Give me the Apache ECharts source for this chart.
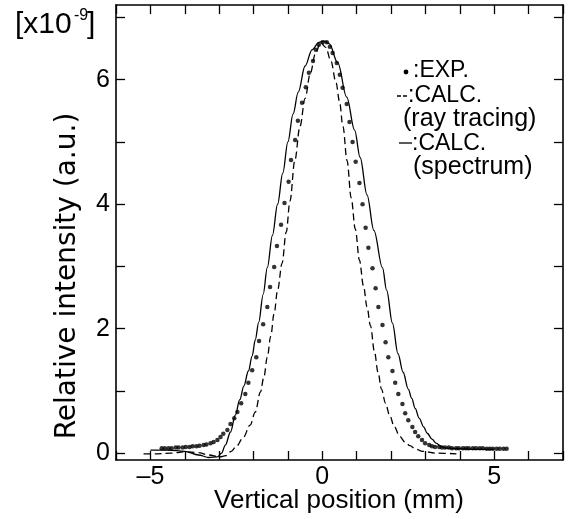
<!DOCTYPE html>
<html>
<head>
<meta charset="utf-8">
<script src="https://cdn.jsdelivr.net/npm/echarts@6/dist/echarts.min.js"></script>
<style>
html,body{margin:0;padding:0;background:#fff;}
#chart{width:568px;height:519px;}
</style>
</head>
<body>
<div id="chart"></div>
<script>
// ---- data ----
var xTickLabels = [-5, 0, 5];
var yTickLabels = [0, 2, 4, 6];
var yTicks = [0, 1, 2, 3, 4, 5, 6, 7];

// experimental points (dots)
var expX = [-4.67,-4.58,-4.47,-4.38,-4.26,-4.18,-4.06,-3.97,-3.86,-3.77,-3.66,-3.57,-3.45,-3.37,-3.25,-3.16,-3.05,-2.96,-2.88,-2.76,
  -2.67,-2.56,-2.47,-2.36,-2.24,-2.15,-2.04,-1.92,-1.84,-1.72,-1.60,-1.52,-1.40,-1.32,-1.20,-1.10,-0.98,-0.91,-0.79,-0.71,
  -0.59,-0.48,-0.39,-0.27,-0.19,-0.10,0.01,0.13,0.22,0.30,0.42,0.51,0.59,0.71,0.79,0.88,0.97,1.08,1.17,1.26,
  1.34,1.46,1.55,1.63,1.75,1.84,1.92,2.04,2.12,2.21,2.33,2.41,2.50,2.62,2.70,2.79,2.90,2.99,3.11,3.19,
  3.28,3.40,3.48,3.57,3.68,3.77,3.89,3.97,4.09,4.18,4.26,4.38,4.47,4.58,4.67,4.78,4.87,4.96,5.07,5.16,5.27,5.36];
var expY = [0.08,0.08,0.08,0.08,0.09,0.09,0.09,0.10,0.10,0.11,0.11,0.12,0.13,0.14,0.16,0.18,0.21,0.26,0.31,0.37,
  0.47,0.56,0.66,0.80,0.95,1.13,1.33,1.54,1.80,2.07,2.35,2.67,2.99,3.33,3.67,4.02,4.36,4.71,5.03,5.34,
  5.63,5.88,6.11,6.30,6.48,6.56,6.60,6.60,6.53,6.43,6.27,6.08,5.87,5.61,5.32,5.00,4.68,4.34,4.00,3.62,
  3.30,2.97,2.65,2.35,2.06,1.78,1.54,1.32,1.13,0.95,0.79,0.64,0.53,0.42,0.34,0.27,0.21,0.16,0.13,0.11,
  0.10,0.10,0.09,0.09,0.09,0.08,0.08,0.08,0.08,0.08,0.08,0.08,0.08,0.08,0.08,0.07,0.07,0.07,0.07,0.07,0.07,0.07];

// calculation, ray tracing (dashed)
var rayX = [-5.2,-4.8,-4.4,-4.0,-3.6,-3.3,-3.0,-2.8,-2.65,-2.5,-2.3,-2.1,-1.95,-1.8,-1.7,-1.6,-1.5,-1.4,-1.3,-1.17,
  -1.05,-0.94,-0.8,-0.65,-0.5,-0.35,-0.2,-0.05,0.1,0.25,0.4,0.5,0.6,0.72,0.84,0.96,1.08,1.2,1.3,1.4,
  1.52,1.62,1.72,1.84,1.95,2.1,2.25,2.4,2.55,2.7,2.9,3.3,3.9];
var rayY = [-0.01,-0.01,0.0,0.02,0.01,-0.03,-0.06,-0.04,0.03,0.11,0.25,0.45,0.66,0.98,1.22,1.54,1.88,2.25,2.62,3.05,
  3.55,4.05,4.7,5.25,5.7,6.1,6.42,6.6,6.52,6.3,5.95,5.65,5.25,4.7,4.1,3.6,3.1,2.68,2.35,2.05,
  1.62,1.30,1.03,0.80,0.62,0.42,0.27,0.18,0.12,0.07,0.03,0.0,-0.01];

// calculation, spectrum (solid)
var specX = [-5.0,-4.5,-4.0,-3.6,-3.3,-3.05,-2.93,-2.82,-2.67,-2.53,-2.4,-2.28,-2.15,-2.04,-1.95,-1.85,-1.72,-1.6,-1.45,-1.3,
  -1.15,-1.0,-0.85,-0.7,-0.5,-0.3,-0.1,0.05,0.2,0.45,0.71,0.94,1.1,1.3,1.5,1.75,1.87,2.04,2.2,2.35,
  2.5,2.6,2.7,2.82,2.95,3.05,3.2,3.31,3.45,3.6,4.0,4.5,5.0];
var specY = [0.05,0.05,0.03,-0.03,-0.07,-0.06,0.0,0.13,0.34,0.61,0.86,1.08,1.32,1.56,1.82,2.1,2.55,2.98,3.5,4.0,
  4.5,5.0,5.45,5.8,6.22,6.48,6.6,6.62,6.58,6.27,5.72,5.19,4.75,4.15,3.58,2.98,2.62,2.09,1.6,1.3,
  1.03,0.88,0.72,0.56,0.42,0.32,0.22,0.16,0.11,0.08,0.07,0.06,0.06];

function pairs(xs, ys) { var out = []; for (var i = 0; i < xs.length; i++) out.push([xs[i], ys[i]]); return out; }

var FONT = '"Liberation Sans", Arial, Helvetica, sans-serif';
var chart = echarts.init(document.getElementById('chart'), null, {renderer: 'canvas'});

var axisLine = {show: true, onZero: false, lineStyle: {color: '#000', width: 1.6}};

var option = {
  animation: false,
  backgroundColor: '#fff',
  grid: {left: 116, right: 5, top: 5, bottom: 59, containLabel: false},
  xAxis: [{
    type: 'value', min: -6, max: 7, interval: 1, position: 'bottom',
    axisLine: axisLine,
    axisTick: {show: true, inside: true, length: 9, lineStyle: {color: '#000', width: 1.3}},
    axisLabel: {show: true, margin: 5, color: '#000', fontFamily: FONT, fontSize: 25,
      formatter: function (v) { return xTickLabels.indexOf(v) >= 0 ? (v < 0 ? '\u2013' + Math.abs(v) : String(v)) : ''; }},
    splitLine: {show: false}
  }, {
    type: 'value', min: -6, max: 7, interval: 1, position: 'top',
    axisLine: axisLine,
    axisTick: {show: true, inside: true, length: 9, lineStyle: {color: '#000', width: 1.3}},
    axisLabel: {show: false}, splitLine: {show: false}
  }],
  yAxis: [{
    type: 'value', min: -0.11, max: 7.2, position: 'left',
    axisLine: axisLine,
    axisTick: {show: true, inside: true, length: 9, customValues: yTicks, lineStyle: {color: '#000', width: 1.3}},
    axisLabel: {show: true, margin: 6, color: '#000', fontFamily: FONT, fontSize: 25, customValues: yTickLabels},
    splitLine: {show: false}
  }, {
    type: 'value', min: -0.11, max: 7.2, position: 'right',
    axisLine: axisLine,
    axisTick: {show: true, inside: true, length: 9, customValues: yTicks, lineStyle: {color: '#000', width: 1.3}},
    axisLabel: {show: false}, splitLine: {show: false}
  }],
  series: [{
    name: 'CALC. (ray tracing)', type: 'line', xAxisIndex: 0, yAxisIndex: 0,
    data: pairs(rayX, rayY), showSymbol: false, smooth: 0.35, smoothMonotone: 'x',
    lineStyle: {color: '#000', width: 1.3, type: [7, 4]}, z: 2
  }, {
    name: 'CALC. (spectrum)', type: 'line', xAxisIndex: 0, yAxisIndex: 0,
    data: pairs(specX, specY), showSymbol: false, smooth: 0.35, smoothMonotone: 'x',
    lineStyle: {color: '#000', width: 1.3}, z: 2
  }, {
    name: 'EXP.', type: 'scatter', xAxisIndex: 0, yAxisIndex: 0,
    data: pairs(expX, expY), symbol: 'circle', symbolSize: 4.5,
    itemStyle: {color: '#000'}, z: 3
  }],
  graphic: [
    // y axis name
    {type: 'text', x: 68, y: 276, rotation: Math.PI / 2,
     style: {text: 'Relative intensity (a.u.)', fill: '#000', font: '28px "DejaVu Sans", sans-serif', align: 'center', verticalAlign: 'middle'}},
    // x axis name
    {type: 'text', x: 339, y: 501,
     style: {text: 'Vertical position (mm)', fill: '#000', font: '26px ' + FONT, align: 'center', verticalAlign: 'middle'}},
    // exponent label
    {type: 'text', x: 15, y: 25, style: {text: '[x10', fill: '#000', font: '30px ' + FONT, align: 'left', verticalAlign: 'middle'}},
    {type: 'text', x: 74, y: 16, style: {text: '-9', fill: '#000', font: '16px ' + FONT, align: 'left', verticalAlign: 'middle'}},
    {type: 'text', x: 87, y: 25, style: {text: ']', fill: '#000', font: '30px ' + FONT, align: 'left', verticalAlign: 'middle'}},
    // legend
    {type: 'circle', shape: {cx: 406, cy: 72, r: 2.4}, style: {fill: '#000'}},
    {type: 'text', x: 413, y: 71, style: {text: ':EXP.', fill: '#000', font: '23px ' + FONT, align: 'left', verticalAlign: 'middle'}},
    {type: 'line', shape: {x1: 397, y1: 96, x2: 408, y2: 96}, style: {stroke: '#000', lineWidth: 1.3, lineDash: [4, 2]}},
    {type: 'text', x: 408, y: 96, style: {text: ':CALC.', fill: '#000', font: '23px ' + FONT, align: 'left', verticalAlign: 'middle'}},
    {type: 'text', x: 403, y: 119, style: {text: '(ray tracing)', fill: '#000', font: '25px ' + FONT, align: 'left', verticalAlign: 'middle'}},
    {type: 'line', shape: {x1: 399, y1: 143, x2: 412, y2: 143}, style: {stroke: '#000', lineWidth: 1.3}},
    {type: 'text', x: 412, y: 144, style: {text: ':CALC.', fill: '#000', font: '23px ' + FONT, align: 'left', verticalAlign: 'middle'}},
    {type: 'text', x: 413, y: 167, style: {text: '(spectrum)', fill: '#000', font: '25px ' + FONT, align: 'left', verticalAlign: 'middle'}}
  ]
};
chart.setOption(option);
</script>
</body>
</html>
